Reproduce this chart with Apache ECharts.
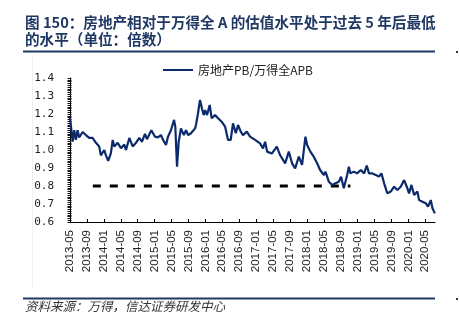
<!DOCTYPE html>
<html><head><meta charset="utf-8">
<script src="https://cdn.jsdelivr.net/npm/echarts@6/dist/echarts.min.js"></script>
<style>html,body{margin:0;padding:0;background:#fff}#c{width:459px;height:329px}</style>
</head><body><div id="c"></div>
<script>
// ---- data ----
const titleText = '图 150：房地产相对于万得全 A 的估值水平处于过去 5 年后最低\n的水平（单位：倍数）';
const sourceText = '资料来源：万得，信达证券研发中心';
const seriesName = '房地产PB/万得全APB';
const dates = ['2013-05-01','2013-05-20','2013-06-01','2013-06-13','2013-06-25','2013-07-06','2013-08-01','2013-08-24','2013-09-17','2013-10-11',
'2013-11-05','2013-11-28','2013-12-10','2014-01-04','2014-01-16','2014-02-02','2014-02-21','2014-03-04','2014-03-15','2014-04-09',
'2014-05-03','2014-05-26','2014-06-08','2014-07-02','2014-07-26','2014-08-19','2014-09-12','2014-10-02','2014-10-23','2014-11-07',
'2014-12-08','2015-01-04','2015-01-25','2015-02-16','2015-03-01','2015-03-22','2015-04-06','2015-04-27','2015-05-19','2015-05-28',
'2015-06-10','2015-06-22','2015-07-08','2015-07-28','2015-08-14','2015-08-29','2015-09-19','2015-10-18','2015-10-25','2015-11-09',
'2015-11-23','2015-12-07','2015-12-19','2015-12-29','2016-01-13','2016-02-02','2016-02-16','2016-03-10','2016-04-01','2016-04-27',
'2016-05-21','2016-06-12','2016-07-01','2016-07-17','2016-08-07','2016-08-23','2016-09-12','2016-09-28','2016-10-25','2016-11-18',
'2016-12-24','2017-01-29','2017-02-20','2017-03-05','2017-03-19','2017-04-22','2017-05-28','2017-06-21','2017-07-13','2017-07-27',
'2017-08-23','2017-09-16','2017-10-08','2017-11-04','2017-11-27','2017-12-21','2018-01-03','2018-01-26','2018-02-20','2018-03-14',
'2018-04-05','2018-05-02','2018-05-13','2018-06-07','2018-07-01','2018-07-24','2018-08-18','2018-09-04','2018-09-23','2018-10-17',
'2018-10-29','2018-11-10','2018-12-04','2018-12-27','2019-01-24','2019-02-17','2019-03-06','2019-03-22','2019-04-16','2019-05-10',
'2019-06-03','2019-06-20','2019-07-09','2019-08-02','2019-08-26','2019-09-20','2019-10-13','2019-11-07','2019-12-01','2019-12-20',
'2020-01-06','2020-01-23','2020-02-12','2020-03-05','2020-03-17','2020-04-11','2020-05-05','2020-05-21','2020-06-10','2020-06-22',
'2020-07-09'];
const values = [1.178,1.046,1.11,1.056,1.11,1.07,1.10,1.083,1.067,1.067,
1.04,1.02,0.97,1.0,0.97,0.94,0.983,1.056,1.02,1.04,
1.01,1.03,1.0,1.067,1.02,1.04,1.067,1.046,1.09,1.06,
1.11,1.074,1.07,1.083,1.056,1.028,1.074,1.11,1.167,1.13,
0.907,1.046,1.12,1.083,1.11,1.083,1.093,1.12,1.14,1.204,
1.278,1.231,1.194,1.222,1.194,1.25,1.176,1.194,1.176,1.157,
1.13,1.056,1.056,1.148,1.093,1.139,1.102,1.083,1.102,1.074,
1.056,1.037,1.009,1.046,0.991,0.98,1.019,0.972,0.944,0.926,
0.991,0.926,0.898,0.963,0.917,1.074,1.028,0.991,0.963,0.926,
0.889,0.861,0.880,0.824,0.806,0.815,0.824,0.852,0.787,0.861,
0.907,0.87,0.88,0.87,0.889,0.87,0.913,0.87,0.87,0.861,
0.852,0.87,0.815,0.759,0.769,0.796,0.778,0.796,0.833,0.796,
0.759,0.806,0.75,0.769,0.722,0.713,0.704,0.685,0.722,0.676,
0.648];
const refStart = '2013-10-13', refEnd = '2018-11-10', refValue = 0.8;
const tickDates = ['2013-05','2013-09','2014-01','2014-05','2014-09','2015-01','2015-05','2015-09','2016-01','2016-05','2016-09',
'2017-01','2017-05','2017-09','2018-01','2018-05','2018-09','2019-01','2019-05','2019-09','2020-01','2020-05'];
const yMin = 0.6, yMax = 1.4, yStep = 0.1, yMinorCount = 10;
const axisEnd = '2020-07-10';

// months since 2013-05 (fractional)
function toM(s){const p=s.split('-').map(Number);return (p[0]-2013)*12+(p[1]-5)+((p[2]||1)-1)/30;}
const tickVals = tickDates.map(toM);
const labelMap = {}; tickDates.forEach(d=>labelMap[toM(d).toFixed(3)]=d);
const minorVals = [];
for (let i=0;i<=Math.round((yMax-yMin)/yStep)*yMinorCount;i++) minorVals.push(+(yMin+i*yStep/yMinorCount).toFixed(4));

const chart = echarts.init(document.getElementById('c'));
const navy = '#0b2a6b';
chart.setOption({
  animation:false,
  backgroundColor:'#fff',
  title:{text:titleText,left:25,top:14,padding:0,textStyle:{fontFamily:'"Noto Sans CJK SC"',fontSize:14.6,fontWeight:'bold',color:'#1f3864',lineHeight:17}},
  legend:{data:[{name:seriesName,icon:'rect'}],left:163,top:64,padding:0,itemWidth:30,itemHeight:2,itemGap:4,
    textStyle:{fontFamily:'"Noto Sans CJK SC"',fontSize:12,color:'#222',padding:[0,0,0,0]}},
  grid:{left:70,right:24,top:78,bottom:107},
  xAxis:{type:'value',min:0,max:toM(axisEnd),
    axisLine:{lineStyle:{color:'#000',width:1}},
    axisTick:{inside:true,length:3,customValues:tickVals,lineStyle:{color:'#000'}},
    splitLine:{show:false},
    axisLabel:{customValues:tickVals,rotate:90,margin:8,fontFamily:'"Liberation Sans", Arial',fontSize:11.5,color:'#222',
      formatter:v=>labelMap[v.toFixed(3)]||''}},
  yAxis:[
    {type:'value',min:yMin,max:yMax,interval:yStep,
    axisLine:{show:true,lineStyle:{color:'#000',width:1}},
    axisTick:{show:true,inside:false,length:2.5,customValues:minorVals,lineStyle:{color:'#111',width:1}},
    splitLine:{show:false},
    axisLabel:{margin:16,fontFamily:'"DejaVu Sans Mono", monospace',fontSize:11,color:'#222',formatter:v=>v.toFixed(1)}},
    {type:'value',min:yMin,max:yMax,position:'left',
    axisLine:{show:false},
    axisTick:{show:true,inside:true,length:1.5,customValues:minorVals,lineStyle:{color:'#111',width:1}},
    splitLine:{show:false},axisLabel:{show:false}}
  ],
  series:[
    {name:seriesName,type:'line',symbol:'none',data:dates.map((d,i)=>[toM(d),values[i]]),
      lineStyle:{color:navy,width:2.2},itemStyle:{color:navy}},
    {name:'ref',type:'line',symbol:'none',data:[[toM(refStart),refValue],[toM(refEnd),refValue]],
      lineStyle:{color:'#000',width:3,type:[8,9]},z:1}
  ],
  graphic:[
    {type:'line',shape:{x1:23,y1:51.5,x2:435,y2:51.5},style:{stroke:'#1f3864',lineWidth:2}},
    {type:'rect',shape:{x:456,y:51,width:2,height:2},style:{fill:'#1f3864'}},
    {type:'line',shape:{x1:32.5,y1:55,x2:32.5,y2:288},style:{stroke:'#f0f0f0',lineWidth:1}},
    {type:'line',shape:{x1:23,y1:298.5,x2:435,y2:298.5},style:{stroke:'#1f3864',lineWidth:2}},
    {type:'rect',shape:{x:456,y:298,width:2,height:2},style:{fill:'#1f3864'}},
    {type:'text',left:25,top:300,style:{text:sourceText,fontFamily:'"Noto Sans CJK SC"',fontSize:12.5,fontStyle:'italic',fill:'#333'}}
  ]
});
</script></body></html>
